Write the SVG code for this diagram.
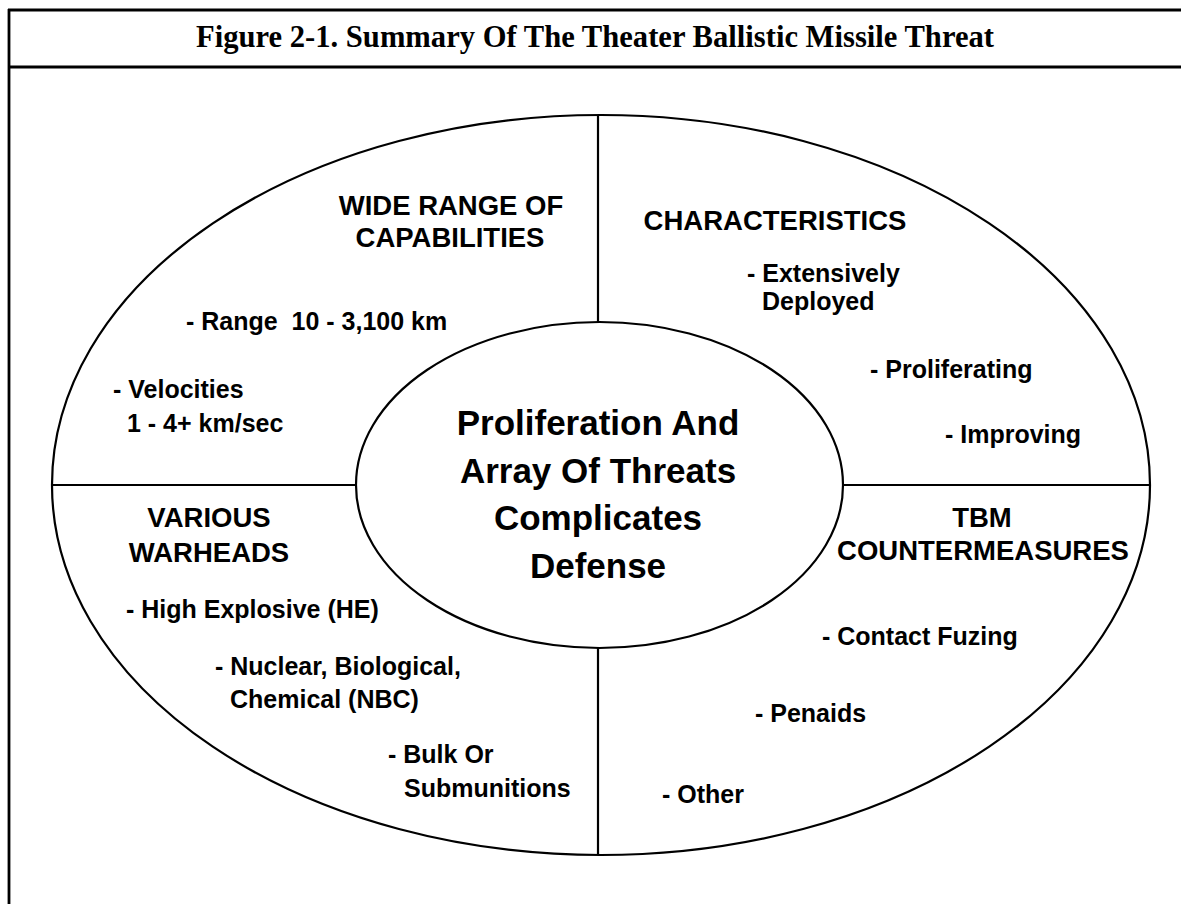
<svg xmlns="http://www.w3.org/2000/svg" width="1181" height="904" viewBox="0 0 1181 904">
<style>
.ln{stroke:#000;stroke-width:2.2;fill:none}
.fr{stroke:#000;stroke-width:2.8;fill:none}
.t{font-family:"Liberation Serif","Times New Roman",serif;font-weight:bold;font-size:30.6px;fill:#000}
.h{font-family:"Liberation Sans",Arial,sans-serif;font-weight:bold;font-size:27.5px;fill:#000;text-anchor:middle}
.b{font-family:"Liberation Sans",Arial,sans-serif;font-weight:bold;font-size:25px;fill:#000}
.c{font-family:"Liberation Sans",Arial,sans-serif;font-weight:bold;font-size:35px;fill:#000;text-anchor:middle}
</style>
<rect width="1181" height="904" fill="#fff"/>
<g id="frame">
<line class="fr" x1="8" y1="10" x2="1181" y2="10"/>
<line class="fr" x1="8" y1="67" x2="1181" y2="67"/>
<line class="fr" x1="9" y1="9" x2="9" y2="904"/>
<text class="t" x="595" y="47" text-anchor="middle">Figure 2-1. Summary Of The Theater Ballistic Missile Threat</text>
</g>
<g id="outer-ellipse">
<ellipse class="ln" cx="601" cy="485" rx="549" ry="370"/>
</g>
<g id="connectors">
<line class="ln" x1="598" y1="115" x2="598" y2="322"/>
<line class="ln" x1="598" y1="648" x2="598" y2="855"/>
<line class="ln" x1="52" y1="485" x2="356" y2="485"/>
<line class="ln" x1="843" y1="485" x2="1150" y2="485"/>
</g>
<g id="center">
<ellipse class="ln" cx="599.5" cy="485" rx="243.5" ry="163"/>
<text class="c" x="598" y="435">Proliferation And</text>
<text class="c" x="598" y="483">Array Of Threats</text>
<text class="c" x="598" y="530">Complicates</text>
<text class="c" x="598" y="578">Defense</text>
</g>
<g id="capabilities">
<text class="h" x="451" y="215">WIDE RANGE OF</text>
<text class="h" x="450" y="247">CAPABILITIES</text>
<text class="b" x="186" y="330">- Range&#160; 10 - 3,100 km</text>
<text class="b" x="113" y="398">- Velocities</text>
<text class="b" x="127" y="432">1 - 4+ km/sec</text>
</g>
<g id="characteristics">
<text class="h" x="775" y="230">CHARACTERISTICS</text>
<text class="b" x="747" y="282">- Extensively</text>
<text class="b" x="762" y="310">Deployed</text>
<text class="b" x="870" y="378">- Proliferating</text>
<text class="b" x="945" y="443">- Improving</text>
</g>
<g id="warheads">
<text class="h" x="209" y="527">VARIOUS</text>
<text class="h" x="209" y="562">WARHEADS</text>
<text class="b" x="126" y="618">- High Explosive (HE)</text>
<text class="b" x="215" y="675">- Nuclear, Biological,</text>
<text class="b" x="230" y="708">Chemical (NBC)</text>
<text class="b" x="388" y="763">- Bulk Or</text>
<text class="b" x="404" y="797">Submunitions</text>
</g>
<g id="countermeasures">
<text class="h" x="982" y="527">TBM</text>
<text class="h" x="983" y="560">COUNTERMEASURES</text>
<text class="b" x="822" y="645">- Contact Fuzing</text>
<text class="b" x="755" y="722">- Penaids</text>
<text class="b" x="662" y="803">- Other</text>
</g>
</svg>
